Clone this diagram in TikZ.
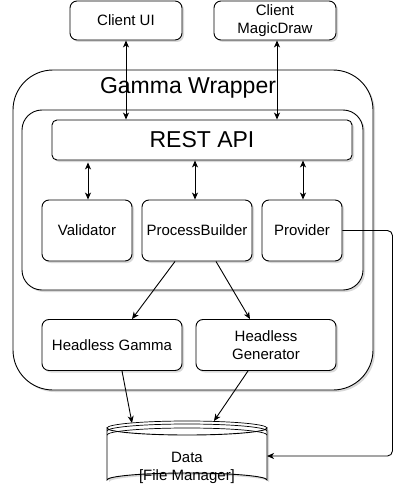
\documentclass[tikz,border=0pt]{standalone}
\usepackage{fontspec}
\setmainfont{Liberation Sans}
\usetikzlibrary{arrows.meta,calc,shadows}
\begin{document}
\begin{tikzpicture}[x=1pt,y=-1pt,
  every node/.style={font=\fontsize{15}{18}\selectfont, align=center, inner sep=0pt},
  sh/.style={drop shadow={shadow xshift=2pt, shadow yshift=-2pt, opacity=0.15, fill=black}},
  box/.style={draw, line width=0.9pt, fill=white, rounded corners=7pt, sh},
  conn/.style={line width=0.9pt, -{Stealth[length=7pt,width=6pt,inset=2pt]}},
  biconn/.style={line width=0.9pt, {Stealth[length=7pt,width=6pt,inset=2pt]}-{Stealth[length=7pt,width=6pt,inset=2pt]}}
]
\useasboundingbox (0,0) rectangle (412,503);
% containers
\node[box, rounded corners=40pt, minimum width=360pt, minimum height=320pt] (gw) at (193,230) {};
\node[font=\fontsize{23}{26}\selectfont] (gwt) at (188,88) {Gamma Wrapper};
\node[box, rounded corners=20pt, minimum width=341pt, minimum height=180pt] (inner) at (192.5,200) {};
% boxes
\node[box, rounded corners=5pt, minimum width=300pt, minimum height=40pt, font=\fontsize{23}{26}\selectfont] (rest) at (202,140) {REST API};
\node[box, minimum width=112pt, minimum height=39pt] (cui) at (126,20.5) {Client UI};
\node[box, minimum width=122pt, minimum height=39pt] (cmd) at (275,20.5) {Client\\MagicDraw};
\node[box, minimum width=90pt, minimum height=61pt] (val) at (87,230.5) {Validator};
\node[box, minimum width=110pt, minimum height=61pt] (pb) at (197,230.5) {ProcessBuilder};
\node[box, minimum width=80pt, minimum height=61pt] (prov) at (302,230.5) {Provider};
\node[box, minimum width=140pt, minimum height=51pt] (hg) at (112,345) {Headless Gamma};
\node[box, minimum width=140pt, minimum height=51pt] (hgen) at (266,345) {Headless\\Generator};
% data store
\fill[black, opacity=0.15] (109,430) -- (109,482) arc[start angle=180, end angle=360, x radius=80, y radius=7] -- (269,430) arc[start angle=0, end angle=180, x radius=80, y radius=7] -- cycle;
\draw[line width=0.9pt, fill=white] (107,428) -- (107,480) arc[start angle=180, end angle=360, x radius=80, y radius=7] -- (267,428) arc[start angle=0, end angle=180, x radius=80, y radius=7] -- cycle;
\draw[line width=0.7pt] (107,428) arc[start angle=180, end angle=360, x radius=80, y radius=7];
\draw[line width=0.7pt] (107,431) arc[start angle=180, end angle=360, x radius=80, y radius=7];
\draw[line width=0.7pt] (107,435) arc[start angle=180, end angle=360, x radius=80, y radius=7];
\node[minimum width=160pt, minimum height=66pt] (data) at (187,454) {};
\node (datat) at (187,468) {Data\\{[File Manager]}};
\coordinate (dhg) at (132,423);
\coordinate (dhgen) at (214,421);
\coordinate (dprov) at (267,456);
% connectors
\draw[biconn] (cui.south) -- (cui.south |- rest.north);
\draw[biconn] ($(cmd.south)+(2,0)$) -- ($(cmd.south |- rest.north)+(2,0)$);
\draw[biconn] ($(rest.south)+(-114,2)$) -- ($(val.north)+(1,0)$);
\draw[biconn] ($(rest.south)+(-7,0)$) -- ($(pb.north)+(-2,0)$);
\draw[biconn] ($(rest.south)+(101,0)$) -- ($(prov.north)+(1,0)$);
\draw[conn] ($(pb.south)+(-22,0)$) -- ($(hg.north)+(20,0)$);
\draw[conn] ($(pb.south)+(19,0)$) -- ($(hgen.north)+(-16,0)$);
\draw[conn] ($(hg.south)+(10,0)$) -- (dhg);
\draw[conn] ($(hgen.south)+(-18,0)$) -- (dhgen);
\draw[conn, rounded corners=5pt] (prov.east) -- ++(50,0) |- (dprov);
\end{tikzpicture}
\end{document}
